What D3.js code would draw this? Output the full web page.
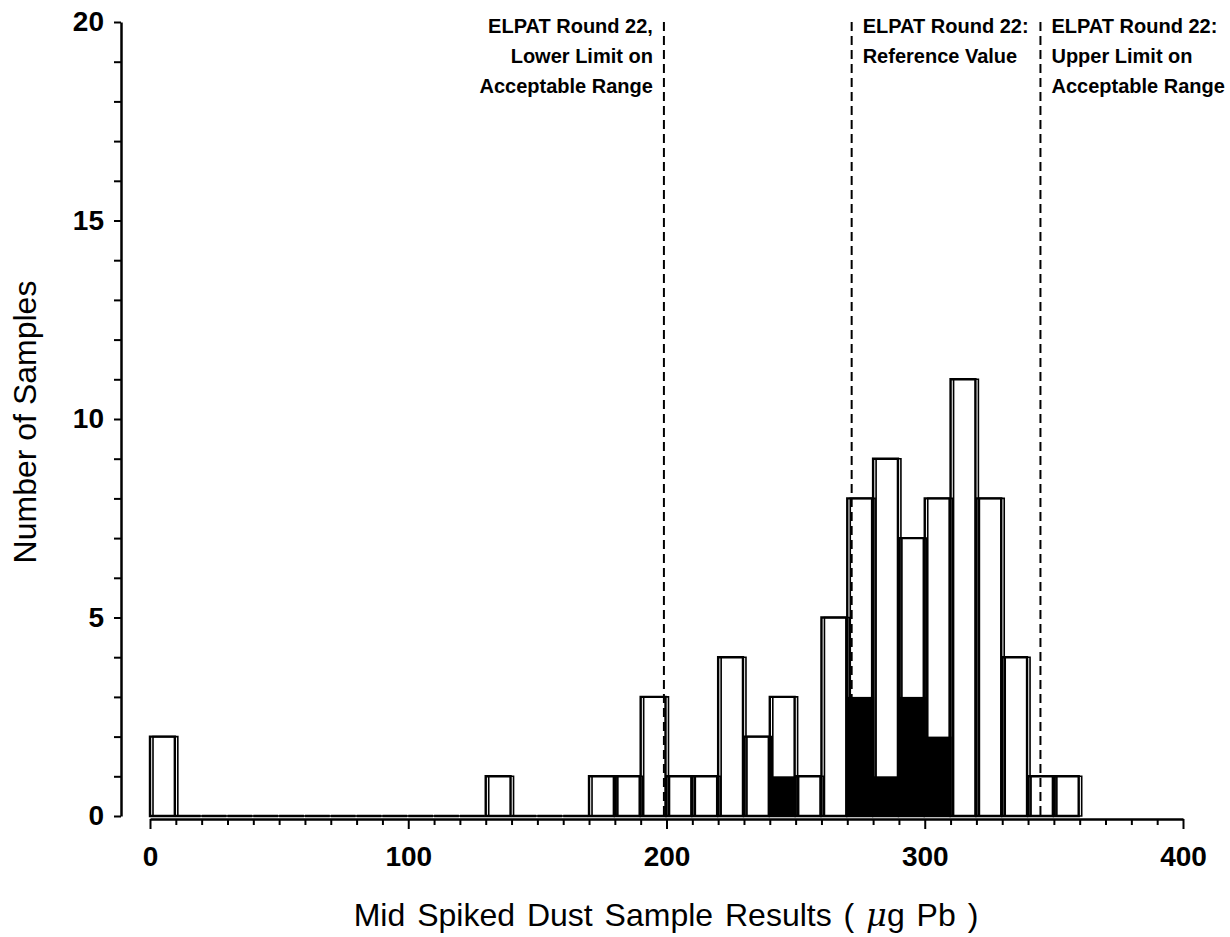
<!DOCTYPE html>
<html lang='en'>
<head>
  <meta charset='UTF-8'/>
  <title>Mid Spiked Dust Sample Results</title>
  <script src='https://d3js.org/d3.v7.min.js'></script>
  <style>
    body { margin: 0; background: #fff; }
    svg { display: block; }
    text { font-family: 'Liberation Sans', Arial, sans-serif; fill: #000; }
  </style>
</head>
<body>
  <svg id='chart' width='1230' height='937'></svg>
<script>

// histogram bins (lower edge, ug Pb), 10 ug wide
const binStart = [0, 10, 20, 30, 40, 50, 60, 70, 80, 90, 100, 110, 120, 130, 140, 150, 160, 170,
  180, 190, 200, 210, 220, 230, 240, 250, 260, 270, 280, 290, 300, 310, 320, 330, 340, 350];
const allCounts = [2, 0, 0, 0, 0, 0, 0, 0, 0, 0, 0, 0, 0, 1, 0, 0, 0, 1,
  1, 3, 1, 1, 4, 2, 3, 1, 5, 8, 9, 7, 8, 11, 8, 4, 1, 1];
const subsetCounts = [0, 0, 0, 0, 0, 0, 0, 0, 0, 0, 0, 0, 0, 0, 0, 0, 0, 0,
  0, 0, 0, 0, 0, 0, 1, 0, 0, 3, 1, 3, 2, 0, 0, 0, 0, 0];
const binWidth = 10;

const xTickLabels = [0, 100, 200, 300, 400];
const yTickLabels = [0, 5, 10, 15, 20];

// ELPAT round 22 limits
const refLines = [
  {value: 199, side: 'left', lines: ['ELPAT Round 22,', 'Lower Limit on', 'Acceptable Range']},
  {value: 271.7, side: 'right', lines: ['ELPAT Round 22:', 'Reference Value']},
  {value: 344.8, side: 'right', lines: ['ELPAT Round 22:', 'Upper Limit on', 'Acceptable Range']}
];

const svg = d3.select('#chart');

const x = d3.scaleLinear().domain([0, 400]).range([150, 1183]);
const y = d3.scaleLinear().domain([0, 20]).range([816, 22]);

const bins = binStart.map((b, i) => ({x0: b, x1: b + binWidth, all: allCounts[i], sub: subsetCounts[i]}));

// outline bars, drawn twice with a small shift like the original output
const barG = svg.append('g');
function outline(d, s0, s1) {
  const x0 = x(d.x0) + s0, x1 = x(d.x1) + s1;
  return `M${x0},${y(0)}V${y(d.all)}H${x1}V${y(0)}Z`;
}
barG.selectAll('.bar-a').data(bins).join('path')
  .attr('class', 'bar-a')
  .attr('d', d => outline(d, 0, -1))
  .attr('fill', '#fff')
  .attr('stroke', '#000')
  .attr('stroke-width', 2.4);

// subset bars, solid black
barG.selectAll('.sub').data(bins.filter(d => d.sub > 0)).join('rect')
  .attr('class', 'sub')
  .attr('x', d => x(d.x0) - 1)
  .attr('y', d => y(d.sub))
  .attr('width', d => x(d.x1) - x(d.x0) + 2)
  .attr('height', d => y(0) - y(d.sub))
  .attr('fill', '#000');

barG.selectAll('.bar-b').data(bins).join('path')
  .attr('class', 'bar-b')
  .attr('d', d => outline(d, 3, 2))
  .attr('fill', 'none')
  .attr('stroke', '#000')
  .attr('stroke-width', 1.6);

// y axis
const yAxis = d3.axisLeft(y)
  .tickValues(d3.range(0, 21, 1))
  .tickFormat(d => yTickLabels.includes(d) ? d : '')
  .tickSize(7)
  .tickSizeOuter(0)
  .tickPadding(10);
const yg = svg.append('g').attr('transform', 'translate(121,0)').call(yAxis);
yg.select('.domain').attr('stroke-width', 2.5);
yg.selectAll('.tick line').attr('stroke-width', 2);
yg.selectAll('.tick text')
  .attr('font-size', 28).attr('font-weight', 'bold')
  .attr('x', -17);

// x axis
const xAxis = d3.axisBottom(x)
  .tickValues(d3.range(0, 401, 10))
  .tickFormat(d => xTickLabels.includes(d) ? d : '')
  .tickSize(6)
  .tickSizeOuter(0);
const xg = svg.append('g').attr('transform', 'translate(0,819)').call(xAxis);
xg.select('.domain').attr('stroke-width', 2.5);
xg.selectAll('.tick line')
  .attr('stroke-width', 2)
  .attr('y2', d => xTickLabels.includes(d) ? 10 : 6);
xg.selectAll('.tick text')
  .attr('font-size', 28).attr('font-weight', 'bold')
  .attr('y', 27);

// reference lines + labels
const refG = svg.append('g');
refG.selectAll('line').data(refLines).join('line')
  .attr('x1', d => x(d.value)).attr('x2', d => x(d.value))
  .attr('y1', y(20)).attr('y2', y(0))
  .attr('stroke', '#000')
  .attr('stroke-width', 2)
  .attr('stroke-dasharray', '9,5');
refLines.forEach(r => {
  const t = refG.append('text')
    .attr('font-size', 20).attr('font-weight', 'bold')
    .attr('text-anchor', r.side === 'left' ? 'end' : 'start');
  t.selectAll('tspan').data(r.lines).join('tspan')
    .attr('x', x(r.value) + (r.side === 'left' ? -11 : 11))
    .attr('y', (d, i) => 33 + i * 30)
    .text(d => d);
});

// axis titles
svg.append('text')
  .attr('transform', 'translate(36,422) rotate(-90)')
  .attr('text-anchor', 'middle')
  .attr('font-size', 32)
  .text('Number of Samples');

const xt = svg.append('text')
  .attr('x', 666).attr('y', 926)
  .attr('text-anchor', 'middle')
  .attr('font-size', 32)
  .attr('word-spacing', 3);
xt.append('tspan').text('Mid Spiked Dust Sample Results (  ');
xt.append('tspan').attr('font-style', 'italic').attr('font-family', "'DejaVu Serif', serif").text('μ');
xt.append('tspan').text('g Pb )');

</script>
</body>
</html>
